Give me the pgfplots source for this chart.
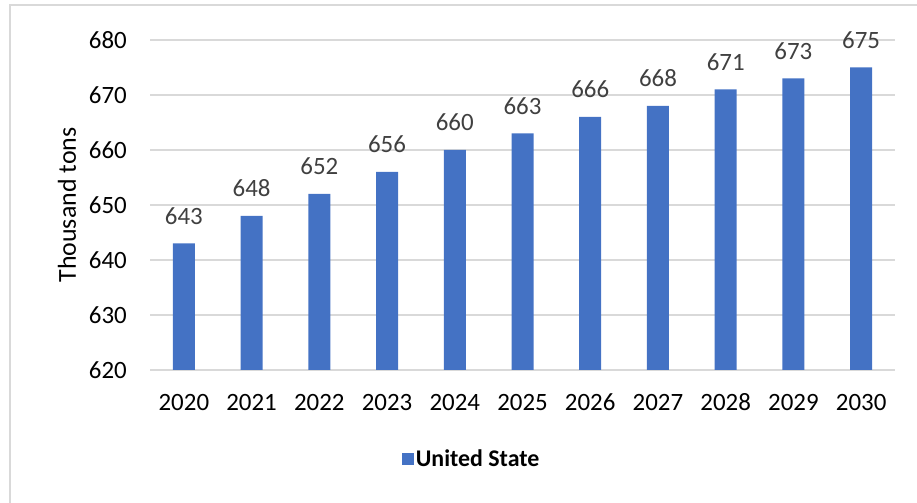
\documentclass[border=0pt]{standalone}
\usepackage{pgfplots}
\pgfplotsset{compat=1.18}
\usepackage{fontspec}
\setmainfont{Carlito}
\definecolor{barblue}{HTML}{4472C4}
\definecolor{gridgray}{HTML}{D9D9D9}
\definecolor{lblgray}{HTML}{404040}
\begin{document}
\begin{tikzpicture}[x=1bp,y=1bp]
\useasboundingbox (0,0) rectangle (917,503);
\draw[gridgray, line width=2.5bp] (10,0) -- (10,498) -- (917,498);
\begin{axis}[
  at={(150bp,133bp)}, anchor=south west,
  scale only axis, width=745bp, height=330bp,
  ymin=620, ymax=680, ytick={620,630,...,680},
  xmin=-0.5, xmax=10.5, xtick={0,...,10},
  xticklabels={2020,2021,2022,2023,2024,2025,2026,2027,2028,2029,2030},
  ybar, bar width=22bp,
  ymajorgrids, grid style={gridgray, line width=1.5bp},
  axis line style={draw=none}, major tick length=0pt,
  tick label style={font=\fontsize{25}{25}\selectfont, text=black},
  /pgf/number format/assume math mode=true,
  yticklabel style={inner sep=0pt, xshift=-23bp},
  xticklabel style={inner sep=0pt, yshift=-22bp, text height=18bp, text depth=0pt},
  ylabel={Thousand tons},
  ylabel style={at={(axis description cs:-0.1114,0.5)}, rotate=0, anchor=center, font=\fontsize{26}{26}\selectfont},
  nodes near coords,
  every node near coord/.append style={inner sep=0pt, yshift=19bp, font=\fontsize{25}{25}\selectfont, text=lblgray},
  legend style={at={(axis description cs:0.338,-0.27)}, anchor=west, draw=none, fill=none, inner sep=0pt, outer sep=0pt, font=\bfseries\fontsize{24}{24}\selectfont},
  legend image code/.code={\fill[barblue] (0bp,-6bp) rectangle (12bp,6bp);},
]
\addplot[fill=barblue, draw=none] coordinates {
(0,643) (1,648) (2,652) (3,656) (4,660) (5,663) (6,666) (7,668) (8,671) (9,673) (10,675)};
\addlegendentry{United State}
\end{axis}
\end{tikzpicture}
\end{document}
